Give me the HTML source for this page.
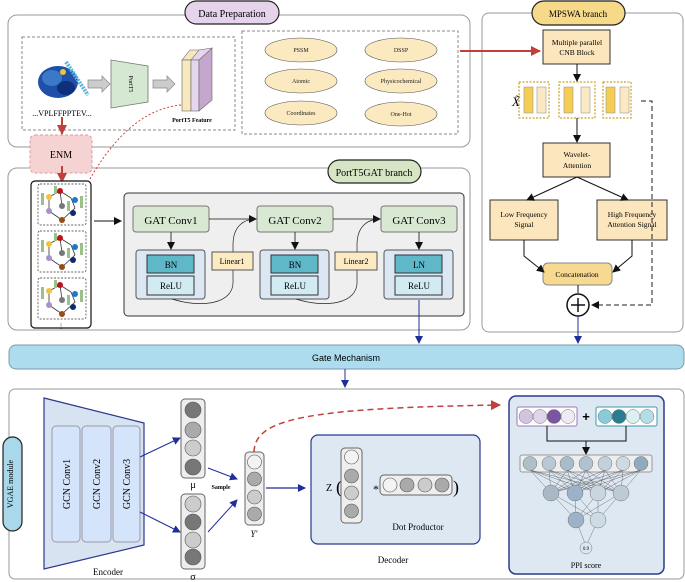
<!DOCTYPE html>
<html><head><meta charset="utf-8"><style>
html,body{margin:0;padding:0;background:#fff;}
svg{display:block;font-family:"Liberation Serif",serif;}
</style></head><body>
<svg width="685" height="582" viewBox="0 0 685 582" xmlns="http://www.w3.org/2000/svg">
<defs>
<marker id="ak" markerWidth="8" markerHeight="8" refX="7" refY="4" orient="auto" markerUnits="userSpaceOnUse"><path d="M0,0 L8,4 L0,8 z" fill="#111"/></marker>
<marker id="ab" markerWidth="8" markerHeight="8" refX="7" refY="4" orient="auto" markerUnits="userSpaceOnUse"><path d="M0,0 L8,4 L0,8 z" fill="#1f2f9a"/></marker>
<marker id="ar" markerWidth="10" markerHeight="10" refX="9" refY="5" orient="auto" markerUnits="userSpaceOnUse"><path d="M0,0 L10,5 L0,10 z" fill="#c0413a"/></marker>
</defs>

<!-- Data Preparation -->
<rect x="8" y="15" width="462" height="132" rx="9" fill="#fff" stroke="#999" stroke-width="1"/>
<rect x="185" y="1" width="94" height="23" rx="11.5" fill="#e4d3ea" stroke="#222" stroke-width="1.2"/>
<text x="232" y="17" font-size="10" text-anchor="middle">Data Preparation</text>
<rect x="22" y="37" width="213" height="93" fill="none" stroke="#888" stroke-dasharray="3,2"/>
<rect x="242" y="31" width="216" height="103" fill="none" stroke="#888" stroke-dasharray="3,2"/>
<g>
<ellipse cx="58" cy="82" rx="20" ry="16" fill="#1f4fa8"/>
<ellipse cx="52" cy="78" rx="10" ry="8" fill="#3a78c8"/>
<ellipse cx="66" cy="88" rx="9" ry="7" fill="#0e2f7a"/>
<line x1="66" y1="62" x2="88" y2="95" stroke="#5ab4e0" stroke-width="4" stroke-dasharray="2,1"/>
<circle cx="63" cy="72" r="3" fill="#e8c53a"/>
</g>
<text x="62" y="116" font-size="8" text-anchor="middle">...VPLFFPPTEV...</text>
<path d="M88,80 h14 v-4 l8,8 l-8,8 v-4 h-14 z" fill="#ccc" stroke="#888" stroke-width="0.7"/>
<polygon points="111,60 148,66 148,102 111,108" fill="#d5e8d2" stroke="#777" stroke-width="0.8"/>
<text x="129" y="84" font-size="6" text-anchor="middle" transform="rotate(90 129 84)">PortT5</text>
<path d="M153,80 h14 v-4 l8,8 l-8,8 v-4 h-14 z" fill="#ccc" stroke="#888" stroke-width="0.7"/>
<polygon points="182,60 190,50 203,50 195,60" fill="#f6e7bd" stroke="#666" stroke-width="0.6"/>
<polygon points="191,60 199,50 212,48 203,60" fill="#e4d6ec" stroke="#666" stroke-width="0.6"/>
<rect x="182" y="60" width="9" height="51" fill="#f8e8bd" stroke="#666" stroke-width="0.6"/>
<rect x="191" y="60" width="8" height="51" fill="#e4d6ec" stroke="#666" stroke-width="0.6"/>
<polygon points="199,60 212,48 212,100 199,111" fill="#c4a6cf" stroke="#666" stroke-width="0.6"/>
<text x="192" y="122" font-size="6" font-weight="bold" text-anchor="middle">PortT5 Feature</text>
<g font-size="6" text-anchor="middle" fill="#222">
<ellipse cx="301" cy="50" rx="36" ry="12" fill="#fbe9c0" stroke="#555" stroke-width="0.6"/><text x="301" y="52">PSSM</text>
<ellipse cx="401" cy="50" rx="36" ry="12" fill="#fbe9c0" stroke="#555" stroke-width="0.6"/><text x="401" y="52">DSSP</text>
<ellipse cx="301" cy="81" rx="36" ry="12" fill="#fbe9c0" stroke="#555" stroke-width="0.6"/><text x="301" y="83">Atomic</text>
<ellipse cx="401" cy="81" rx="36" ry="12" fill="#fbe9c0" stroke="#555" stroke-width="0.6"/><text x="401" y="83">Physicochemical</text>
<ellipse cx="301" cy="113" rx="36" ry="12" fill="#fbe9c0" stroke="#555" stroke-width="0.6"/><text x="301" y="115">Coordinates</text>
<ellipse cx="401" cy="114" rx="36" ry="12" fill="#fbe9c0" stroke="#555" stroke-width="0.6"/><text x="401" y="116">One-Hot</text>
</g>

<!-- PortT5GAT branch -->
<rect x="8" y="168" width="462" height="162" rx="9" fill="#fff" stroke="#999"/>
<rect x="30" y="135" width="62" height="38" rx="5" fill="#f6d3d3" stroke="#e09a9a" stroke-dasharray="3,2"/>
<text x="61" y="158" font-size="10" text-anchor="middle">ENM</text>
<line x1="62" y1="117" x2="62" y2="134" stroke="#c0413a" stroke-width="2" marker-end="url(#ar)"/>
<line x1="62" y1="166" x2="62" y2="182" stroke="#c0413a" stroke-width="2" marker-end="url(#ar)"/>
<path d="M181,105 C130,110 100,160 82,193" fill="none" stroke="#d03030" stroke-width="0.9" stroke-dasharray="2,2" marker-end="url(#ar)"/>
<rect x="328" y="160" width="93" height="23" rx="11.5" fill="#d6e5c4" stroke="#222" stroke-width="1.2"/>
<text x="374" y="176" font-size="10" text-anchor="middle">PortT5GAT branch</text>
<rect x="31" y="181" width="60" height="147" rx="4" fill="#fff" stroke="#111" stroke-width="1.2"/>
<g id="tile">
<rect x="38" y="184" width="48" height="41" rx="2" fill="none" stroke="#333" stroke-width="0.7" stroke-dasharray="2,1.5"/>
<polyline points="49,197 60,191 71,198 75,208 62,220 49,211 49,197" fill="none" stroke="#333" stroke-width="0.8"/>
<line x1="60" y1="191" x2="62" y2="206" stroke="#333" stroke-width="0.8"/>
<circle cx="60" cy="191" r="3" fill="#c0101a"/><circle cx="49" cy="197" r="3" fill="#f2c43a"/>
<circle cx="75" cy="200" r="3" fill="#1f78c8"/><circle cx="62" cy="206" r="3" fill="#777"/>
<circle cx="49" cy="211" r="3" fill="#a892c8"/><circle cx="73" cy="213" r="3" fill="#0d2a6e"/>
<circle cx="62" cy="220" r="3" fill="#9a4a14"/>
<rect x="41" y="193" width="3" height="12" fill="#9cc08a"/><rect x="80" y="196" width="3" height="12" fill="#9cc08a"/>
<rect x="54" y="186" width="3" height="8" fill="#9cc08a"/><rect x="67" y="201" width="3" height="10" fill="#9cc08a"/>
</g>
<use href="#tile" y="47"/>
<use href="#tile" y="94"/>
<text x="61" y="328" font-size="6" text-anchor="middle">⋮</text>
<line x1="94" y1="221" x2="121" y2="221" stroke="#111" marker-end="url(#ak)"/>

<rect x="124" y="193" width="340" height="123" rx="4" fill="#efefef" stroke="#333" stroke-width="1"/>
<g font-size="11" text-anchor="middle">
<rect x="133" y="206" width="76" height="26" rx="3" fill="#d8e8d2" stroke="#777"/><text x="171" y="224">GAT Conv1</text>
<rect x="257" y="206" width="76" height="26" rx="3" fill="#d8e8d2" stroke="#777"/><text x="295" y="224">GAT Conv2</text>
<rect x="381" y="206" width="76" height="26" rx="3" fill="#d8e8d2" stroke="#777"/><text x="419" y="224">GAT Conv3</text>
</g>
<line x1="209" y1="219" x2="256" y2="219" stroke="#111" stroke-width="0.8" marker-end="url(#ak)"/>
<line x1="333" y1="219" x2="380" y2="219" stroke="#111" stroke-width="0.8" marker-end="url(#ak)"/>
<g font-size="9" text-anchor="middle">
<g id="bnr">
<rect x="136" y="250" width="69" height="49" rx="3" fill="#dbe7f3" stroke="#555"/>
<rect x="147" y="255" width="47" height="18" fill="#5fb8c8" stroke="#333"/>
<rect x="147" y="276" width="47" height="19" fill="#d2eaf2" stroke="#333"/>
</g>
<use href="#bnr" x="124"/><use href="#bnr" x="248"/>
<text x="171" y="268">BN</text><text x="171" y="289">ReLU</text>
<text x="295" y="268">BN</text><text x="295" y="289">ReLU</text>
<text x="419" y="268">LN</text><text x="419" y="289">ReLU</text>
</g>
<line x1="171" y1="232" x2="171" y2="249" stroke="#111" stroke-width="0.8" marker-end="url(#ak)"/>
<line x1="295" y1="232" x2="295" y2="249" stroke="#111" stroke-width="0.8" marker-end="url(#ak)"/>
<line x1="419" y1="232" x2="419" y2="249" stroke="#111" stroke-width="0.8" marker-end="url(#ak)"/>
<path d="M172,299 C200,308 235,305 233,280 L233,245 C233,225 245,219 256,219" fill="none" stroke="#222" stroke-width="0.7"/>
<path d="M296,299 C324,308 359,305 357,280 L357,245 C357,225 369,219 380,219" fill="none" stroke="#222" stroke-width="0.7"/>
<rect x="212" y="252" width="41" height="18" fill="#fbeac2" stroke="#555"/><text x="232" y="264" font-size="8" text-anchor="middle">Linear1</text>
<rect x="335" y="252" width="42" height="18" fill="#fbeac2" stroke="#555"/><text x="356" y="264" font-size="8" text-anchor="middle">Linear2</text>
<line x1="419" y1="300" x2="419" y2="343" stroke="#1f2f9a" stroke-width="1" marker-end="url(#ab)"/>

<!-- MPSWA branch -->
<rect x="482" y="13" width="201" height="319" rx="7" fill="#fff" stroke="#999"/>
<line x1="460" y1="51" x2="540" y2="51" stroke="#c0413a" stroke-width="2" marker-end="url(#ar)"/>
<rect x="532" y="1" width="93" height="24" rx="12" fill="#f7d98a" stroke="#222" stroke-width="1.2"/>
<text x="578" y="17" font-size="9" text-anchor="middle">MPSWA branch</text>
<g font-size="7.5" text-anchor="middle">
<rect x="543" y="30" width="67" height="34" fill="#fbe6bd" stroke="#333"/>
<text x="577" y="45">Multiple parallel</text><text x="577" y="55">CNB Block</text>
<rect x="543" y="143" width="67" height="34" fill="#fbe6bd" stroke="#333"/>
<text x="577" y="157">Wavelet-</text><text x="577" y="168">Attention</text>
<rect x="490" y="200" width="68" height="40" fill="#fbe6bd" stroke="#333"/>
<text x="524" y="217">Low Frequency</text><text x="524" y="227">Signal</text>
<rect x="597" y="200" width="70" height="40" fill="#fbe6bd" stroke="#333"/>
<text x="632" y="217">High Frequency</text><text x="632" y="227">Attention Signal</text>
<rect x="543" y="263" width="69" height="22" rx="5" fill="#f8d991" stroke="#888"/>
<text x="577" y="277">Concatenation</text>
</g>
<text x="512" y="106" font-size="13" font-style="italic">X̃</text>
<g>
<rect x="519" y="82" width="30" height="36" fill="none" stroke="#c9a227" stroke-dasharray="2,1.5" stroke-width="1.2"/>
<rect x="524" y="87" width="9" height="26" fill="#f5cd52" stroke="#999" stroke-width="0.6"/><rect x="537" y="87" width="9" height="26" fill="#fbe9c4" stroke="#999" stroke-width="0.6"/>
<rect x="559" y="82" width="36" height="36" fill="none" stroke="#c9a227" stroke-dasharray="2,1.5" stroke-width="1.2"/>
<rect x="564" y="87" width="9" height="26" fill="#f5cd52" stroke="#999" stroke-width="0.6"/><rect x="581" y="87" width="9" height="26" fill="#fbe9c4" stroke="#999" stroke-width="0.6"/>
<rect x="603" y="82" width="28" height="36" fill="none" stroke="#c9a227" stroke-dasharray="2,1.5" stroke-width="1.2"/>
<rect x="606" y="87" width="9" height="26" fill="#f5cd52" stroke="#999" stroke-width="0.6"/><rect x="620" y="87" width="9" height="26" fill="#fbe9c4" stroke="#999" stroke-width="0.6"/>
</g>
<line x1="577" y1="64" x2="577" y2="81" stroke="#111" marker-end="url(#ak)"/>
<line x1="577" y1="118" x2="577" y2="142" stroke="#111" marker-end="url(#ak)"/>
<line x1="577" y1="177" x2="527" y2="200" stroke="#111" marker-end="url(#ak)"/>
<line x1="577" y1="177" x2="628" y2="200" stroke="#111" marker-end="url(#ak)"/>
<polyline points="524,240 524,256 544,272" fill="none" stroke="#111" marker-end="url(#ak)"/>
<polyline points="632,240 632,256 613,272" fill="none" stroke="#111" marker-end="url(#ak)"/>
<polyline points="641,101 652,101 652,305 592,305" fill="none" stroke="#222" stroke-dasharray="5,3" marker-end="url(#ak)"/>
<line x1="578" y1="285" x2="578" y2="293" stroke="#111"/>
<circle cx="578" cy="305" r="11" fill="#fff" stroke="#111" stroke-width="1.5"/>
<line x1="571" y1="305" x2="585" y2="305" stroke="#111" stroke-width="1.5"/><line x1="578" y1="298" x2="578" y2="312" stroke="#111" stroke-width="1.5"/>
<line x1="578" y1="316" x2="578" y2="343" stroke="#1f2f9a" stroke-width="1" marker-end="url(#ab)"/>

<!-- Gate -->
<rect x="9" y="345" width="675" height="24" rx="7" fill="#acdcee" stroke="#7a9aaa"/>
<text x="346" y="361" font-size="9" font-family="Liberation Sans, sans-serif" text-anchor="middle">Gate Mechanism</text>
<line x1="345" y1="369" x2="345" y2="387" stroke="#1f2f9a" stroke-width="1" marker-end="url(#ab)"/>

<!-- VGAE module -->
<rect x="9" y="389" width="675" height="190" rx="6" fill="#fff" stroke="#999"/>
<rect x="3" y="437" width="19" height="94" rx="9.5" fill="#a8d8ea" stroke="#222" stroke-width="1.2"/>
<text x="13" y="484" font-size="8" text-anchor="middle" transform="rotate(-90 13 484)">VGAE module</text>
<polygon points="44,398 144,423 144,545 44,569" fill="#d7e3f0" stroke="#2b3a8e" stroke-width="1.2"/>
<g font-size="10" text-anchor="middle">
<rect x="52" y="426" width="28" height="116" rx="4" fill="#d4e4fa" stroke="#99a"/>
<rect x="82" y="426" width="29" height="116" rx="4" fill="#d4e4fa" stroke="#99a"/>
<rect x="113" y="426" width="27" height="116" rx="4" fill="#d4e4fa" stroke="#99a"/>
<text x="70" y="484" transform="rotate(-90 70 484)">GCN Conv1</text>
<text x="100" y="484" transform="rotate(-90 100 484)">GCN Conv2</text>
<text x="130" y="484" transform="rotate(-90 130 484)">GCN Conv3</text>
</g>
<text x="108" y="575" font-size="9" text-anchor="middle">Encoder</text>
<rect x="181" y="399" width="24" height="79" rx="4" fill="#eee" stroke="#666"/>
<circle cx="193" cy="410" r="8" fill="#777" stroke="#555" stroke-width="0.6"/><circle cx="193" cy="430" r="8" fill="#aaa" stroke="#555" stroke-width="0.6"/>
<circle cx="193" cy="448" r="8" fill="#ccc" stroke="#555" stroke-width="0.6"/><circle cx="193" cy="467" r="8" fill="#777" stroke="#555" stroke-width="0.6"/>
<text x="193" y="488" font-size="10" text-anchor="middle">μ</text>
<rect x="181" y="494" width="24" height="75" rx="4" fill="#eee" stroke="#666"/>
<circle cx="193" cy="504" r="8" fill="#ccc" stroke="#555" stroke-width="0.6"/><circle cx="193" cy="522" r="8" fill="#777" stroke="#555" stroke-width="0.6"/>
<circle cx="193" cy="540" r="8" fill="#ccc" stroke="#555" stroke-width="0.6"/><circle cx="193" cy="557" r="8" fill="#777" stroke="#555" stroke-width="0.6"/>
<text x="193" y="580" font-size="10" text-anchor="middle">σ</text>
<text x="221" y="489" font-size="6" font-weight="bold" text-anchor="middle">Sample</text>
<line x1="140" y1="457" x2="180" y2="438" stroke="#1f2f9a" marker-end="url(#ab)"/>
<line x1="140" y1="512" x2="180" y2="532" stroke="#1f2f9a" marker-end="url(#ab)"/>
<line x1="208" y1="468" x2="237" y2="479" stroke="#1f2f9a" marker-end="url(#ab)"/>
<line x1="208" y1="532" x2="237" y2="500" stroke="#1f2f9a" marker-end="url(#ab)"/>
<rect x="245" y="452" width="19" height="73" rx="4" fill="#eee" stroke="#666"/>
<circle cx="254.5" cy="462" r="7" fill="#f3f3f3" stroke="#555" stroke-width="0.6"/><circle cx="254.5" cy="479" r="7" fill="#aaa" stroke="#555" stroke-width="0.6"/>
<circle cx="254.5" cy="497" r="7" fill="#ccc" stroke="#555" stroke-width="0.6"/><circle cx="254.5" cy="514" r="7" fill="#aaa" stroke="#555" stroke-width="0.6"/>
<text x="254" y="537" font-size="9" font-style="italic" text-anchor="middle">Y′</text>
<line x1="266" y1="488" x2="305" y2="488" stroke="#1f2f9a" stroke-width="1.2" marker-end="url(#ab)"/>
<path d="M254,452 C255,420 300,408 500,405" fill="none" stroke="#c0413a" stroke-width="1.5" stroke-dasharray="6,4" marker-end="url(#ar)"/>
<rect x="311" y="435" width="169" height="109" rx="7" fill="#dde8f2" stroke="#2b3a8e" stroke-width="1.2"/>
<text x="329" y="491" font-size="10" text-anchor="middle">Z</text><text x="336" y="493" font-size="18">(</text>
<rect x="341" y="448" width="21" height="75" rx="4" fill="#eee" stroke="#666"/>
<circle cx="351.5" cy="457" r="7" fill="#f3f3f3" stroke="#555" stroke-width="0.6"/><circle cx="351.5" cy="476" r="7" fill="#aaa" stroke="#555" stroke-width="0.6"/>
<circle cx="351.5" cy="493" r="7" fill="#ccc" stroke="#555" stroke-width="0.6"/><circle cx="351.5" cy="511" r="7" fill="#aaa" stroke="#555" stroke-width="0.6"/>
<text x="376" y="493" font-size="12" text-anchor="middle">*</text>
<rect x="380" y="475" width="72" height="20" rx="4" fill="#eee" stroke="#666"/>
<circle cx="390" cy="485" r="7" fill="#f3f3f3" stroke="#555" stroke-width="0.6"/><circle cx="407" cy="485" r="7" fill="#aaa" stroke="#555" stroke-width="0.6"/>
<circle cx="425" cy="485" r="7" fill="#ccc" stroke="#555" stroke-width="0.6"/><circle cx="442" cy="485" r="7" fill="#aaa" stroke="#555" stroke-width="0.6"/>
<text x="453" y="493" font-size="18">)</text>
<text x="418" y="530" font-size="9" text-anchor="middle">Dot Productor</text>
<text x="393" y="563" font-size="9" text-anchor="middle">Decoder</text>
<rect x="509" y="396" width="155" height="178" rx="7" fill="#dde8f2" stroke="#2b3a8e" stroke-width="1.5"/>
<rect x="517" y="407" width="60" height="19" rx="2" fill="#fff" stroke="#9a7ab8"/>
<circle cx="526" cy="416.5" r="7" fill="#d4c3e0" stroke="#777" stroke-width="0.5"/><circle cx="540" cy="416.5" r="7" fill="#e0d6ea" stroke="#777" stroke-width="0.5"/>
<circle cx="554" cy="416.5" r="7" fill="#7a55a0" stroke="#777" stroke-width="0.5"/><circle cx="568" cy="416.5" r="7" fill="#efeaf3" stroke="#777" stroke-width="0.5"/>
<text x="586" y="421" font-size="13" font-weight="bold" text-anchor="middle" font-family="Liberation Sans, sans-serif">+</text>
<rect x="596" y="407" width="61" height="19" rx="2" fill="#fff" stroke="#3a9aaa"/>
<circle cx="605" cy="416.5" r="7" fill="#8acbd8" stroke="#777" stroke-width="0.5"/><circle cx="619" cy="416.5" r="7" fill="#2a7d90" stroke="#777" stroke-width="0.5"/>
<circle cx="633" cy="416.5" r="7" fill="#dceff3" stroke="#777" stroke-width="0.5"/><circle cx="647" cy="416.5" r="7" fill="#b4dde6" stroke="#777" stroke-width="0.5"/>
<polyline points="547,426 547,441 626,441 626,426" fill="none" stroke="#111"/>
<line x1="586" y1="441" x2="586" y2="454" stroke="#111" marker-end="url(#ak)"/>
<rect x="520" y="455" width="132" height="17" rx="2" fill="#eee" stroke="#999"/>
<g stroke="#444" stroke-width="0.35">
<path d="M530,470 L551,493 M530,470 L575,493 M530,470 L598,493 M530,470 L621,493 M549,470 L551,493 M549,470 L575,493 M549,470 L598,493 M549,470 L621,493 M567,470 L551,493 M567,470 L575,493 M567,470 L598,493 M567,470 L621,493 M586,470 L551,493 M586,470 L575,493 M586,470 L598,493 M586,470 L621,493 M605,470 L551,493 M605,470 L575,493 M605,470 L598,493 M605,470 L621,493 M623,470 L551,493 M623,470 L575,493 M623,470 L598,493 M623,470 L621,493 M641,470 L551,493 M641,470 L575,493 M641,470 L598,493 M641,470 L621,493"/>
<path d="M551,493 L576,520 M551,493 L598,520 M575,493 L576,520 M575,493 L598,520 M598,493 L576,520 M598,493 L598,520 M621,493 L576,520 M621,493 L598,520 M576,520 L586,546 M598,520 L586,546"/>
</g>
<g stroke="#777" stroke-width="0.5">
<circle cx="530" cy="463.5" r="7" fill="#aebfcc"/><circle cx="549" cy="463.5" r="7" fill="#b8c8d4"/><circle cx="567" cy="463.5" r="7" fill="#a9bccb"/>
<circle cx="586" cy="463.5" r="7" fill="#b0c2cf"/><circle cx="605" cy="463.5" r="7" fill="#c2d1dc"/><circle cx="623" cy="463.5" r="7" fill="#ccdae4"/><circle cx="641" cy="463.5" r="7" fill="#90aac0"/>
<circle cx="551" cy="493" r="8" fill="#a9b8c4"/><circle cx="575" cy="493" r="8" fill="#9cb2c8"/><circle cx="598" cy="493" r="8" fill="#c9d6e0"/><circle cx="621" cy="493" r="8" fill="#bccbd6"/>
<circle cx="576" cy="520" r="8" fill="#9cb2c8"/><circle cx="598" cy="520" r="8" fill="#cfdbe4"/>
<circle cx="586" cy="548" r="6" fill="#dde6ee"/>
</g>
<text x="586" y="550" font-size="5" text-anchor="middle">0.9</text>
<text x="586" y="568" font-size="8" text-anchor="middle">PPI score</text>
</svg>
</body></html>
